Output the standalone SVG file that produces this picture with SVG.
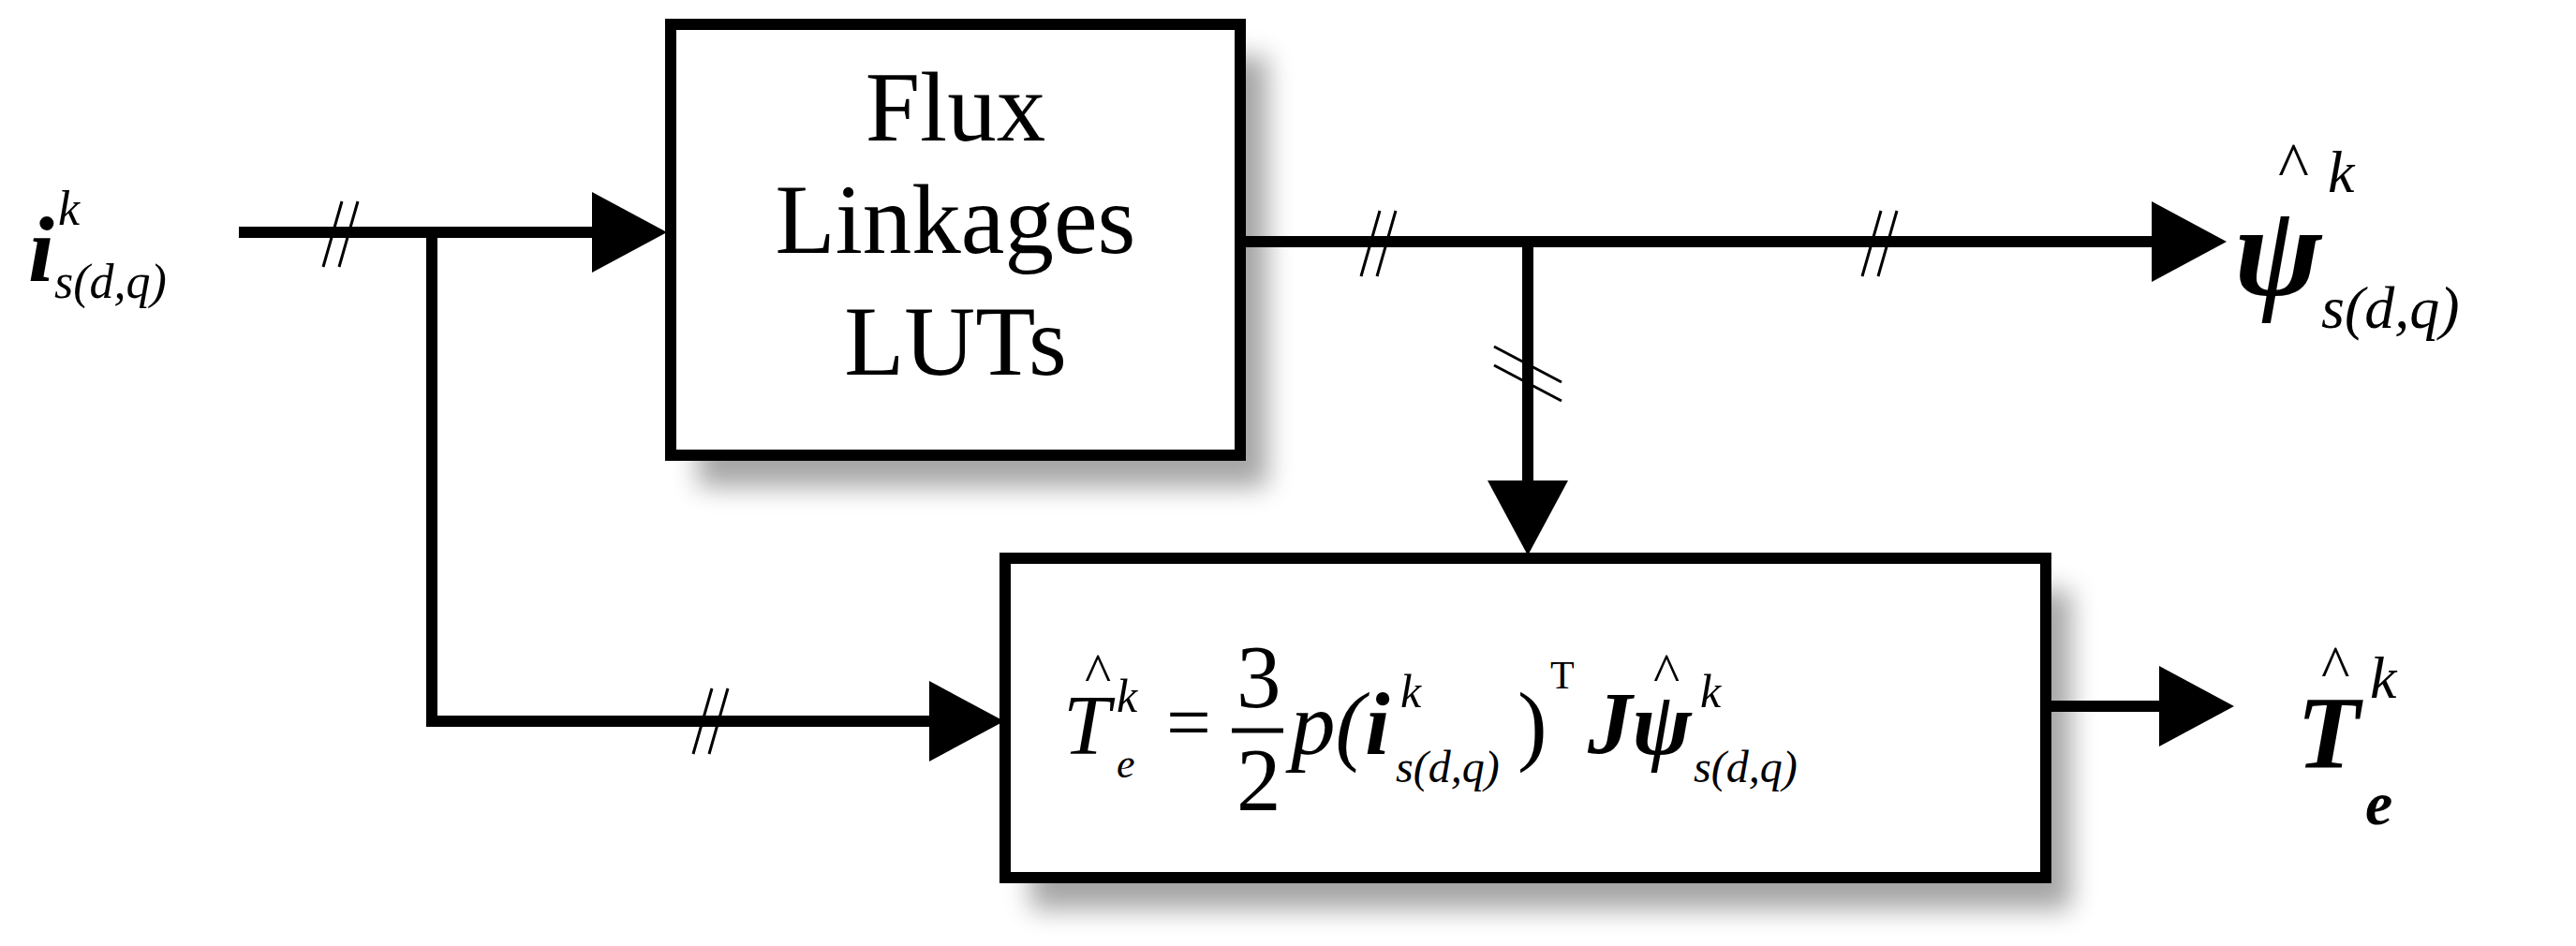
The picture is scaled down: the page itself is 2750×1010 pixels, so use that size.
<svg xmlns="http://www.w3.org/2000/svg" width="2750" height="1010" viewBox="0 0 2750 1010">
<style>
.ln{stroke:#000;stroke-width:12;fill:none}
.tk{stroke:#000;stroke-width:3;fill:none}
.bx{fill:#fff;stroke:#000;stroke-width:12}
.t{font-family:"Liberation Serif",serif;fill:#000}
.i{font-style:italic}
</style>
<defs>
<filter id="sh" x="-10%" y="-10%" width="130%" height="140%"><feGaussianBlur stdDeviation="14"/></filter>
</defs>
<g id="connectors">
<path class="ln" d="M255,248 H640"/><path d="M632,205 L712,248 L632,291z"/>
<path class="ln" d="M461,248 V770 H1000"/><path d="M992,727 L1072,770 L992,813z"/>
<path class="ln" d="M1324,258 H2300"/><path d="M2297,215 L2377,258 L2297,301z"/>
<path class="ln" d="M1631,258 V525"/><path d="M1588,513 L1631,593 L1674,513z"/>
<path class="ln" d="M2184,754 H2310"/><path d="M2305,711 L2385,754 L2305,797z"/>
<path class="tk" d="M345,285 L365,215 M362,285 L382,215"/>
<path class="tk" d="M1453,295 L1473,225 M1470,295 L1490,225"/>
<path class="tk" d="M1988,295 L2008,225 M2005,295 L2025,225"/>
<path class="tk" d="M1595,370 L1667,408 M1595,390 L1667,428"/>
<path class="tk" d="M740,805 L760,735 M757,805 L777,735"/>
</g>
<g id="flux">
<rect x="745" y="60" width="608" height="460" fill="#000" opacity="0.35" filter="url(#sh)"/>
<rect class="bx" x="716" y="26" width="608" height="460"/>
<text class="t" font-size="105" text-anchor="middle"><tspan x="1020" y="150">Flux</tspan><tspan x="1020" y="270">Linkages</tspan><tspan x="1020" y="400">LUTs</tspan></text>
</g>
<g id="torque">
<rect x="1100" y="630" width="1111" height="341" fill="#000" opacity="0.35" filter="url(#sh)"/>
<rect class="bx" x="1073" y="596" width="1111" height="341"/>
<text class="t i" font-size="90" x="1135" y="805">T</text>
<text class="t" font-size="60" x="1158" y="738">^</text>
<text class="t i" font-size="50" x="1192" y="760">k</text>
<text class="t i" font-size="44" x="1192" y="830">e</text>
<text class="t" font-size="85" x="1245" y="800">=</text>
<text class="t" font-size="95" x="1320" y="755">3</text>
<path d="M1315,780 H1370" stroke="#000" stroke-width="5"/>
<text class="t" font-size="95" x="1320" y="865">2</text>
<text class="t i" font-size="95" x="1378" y="805">p(<tspan font-weight="bold">i</tspan></text>
<text class="t i" font-size="50" x="1495" y="755">k</text>
<text class="t i" font-size="48" x="1490" y="835">s(d,q)</text>
<text class="t" font-size="95" x="1620" y="805">)</text>
<text class="t" font-size="42" x="1655" y="735">T</text>
<text class="t i" font-weight="bold" font-size="95" x="1695" y="805">J&#968;</text>
<text class="t" font-size="60" x="1765" y="738">^</text>
<text class="t i" font-size="50" x="1815" y="755">k</text>
<text class="t i" font-size="48" x="1808" y="835">s(d,q)</text>
</g>
<g id="labels">
<text class="t i" font-weight="bold" font-size="100" x="30" y="300">i</text>
<text class="t i" font-size="52" x="62" y="240">k</text>
<text class="t i" font-size="52" x="58" y="318">s(d,q)</text>
<text class="t i" font-weight="bold" font-size="140" x="2385" y="315">&#968;</text>
<text class="t" font-size="70" x="2432" y="200">^</text>
<text class="t i" font-size="64" x="2485" y="205">k</text>
<text class="t i" font-size="64" x="2478" y="350">s(d,q)</text>
<text class="t i" font-weight="bold" font-size="110" x="2452" y="820">T</text>
<text class="t" font-size="65" x="2478" y="735">^</text>
<text class="t i" font-size="64" x="2530" y="745">k</text>
<text class="t i" font-weight="bold" font-size="66" x="2525" y="880">e</text>
</g>
</svg>
